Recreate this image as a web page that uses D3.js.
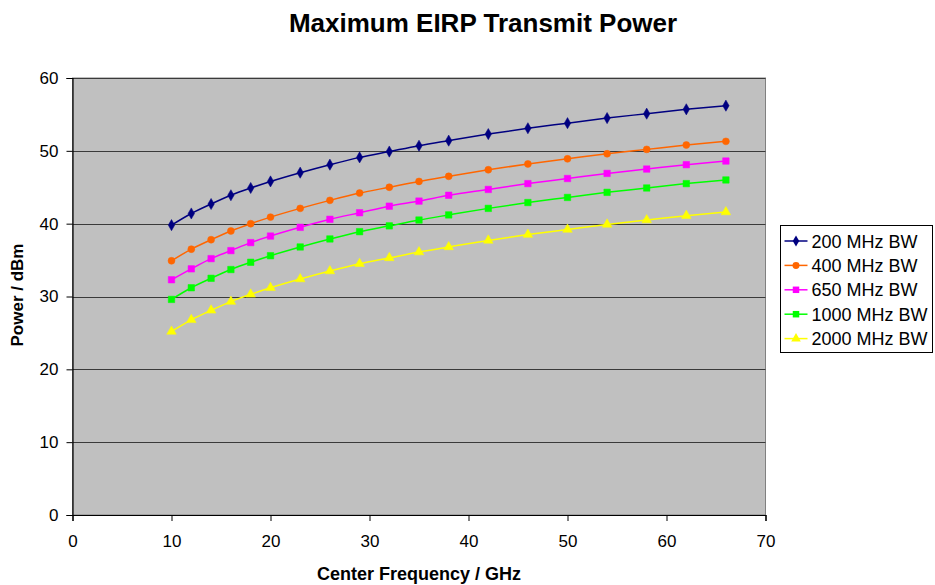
<!DOCTYPE html>
<html>
<head>
<meta charset="utf-8">
<script src="https://cdn.jsdelivr.net/npm/d3@7"></script>
<style>
  html, body { margin: 0; padding: 0; background: #fff; }
  svg { display: block; font-family: "Liberation Sans", Arial, sans-serif; }
</style>
</head>
<body>
<svg id="chart" width="935" height="585"></svg>
<script>
// Center frequencies (GHz)
const freqs = [10, 12, 14, 16, 18, 20, 23, 26, 29, 32, 35, 38, 42, 46, 50, 54, 58, 62, 66];

// Maximum EIRP (dBm) per bandwidth
const bw200  = [39.8, 41.4, 42.7, 43.9, 44.9, 45.8, 47.0, 48.1, 49.1, 49.9, 50.7, 51.4, 52.3, 53.1, 53.8, 54.5, 55.1, 55.7, 56.2];
const bw400  = [34.9, 36.5, 37.8, 39.0, 40.0, 40.9, 42.1, 43.2, 44.2, 45.0, 45.8, 46.5, 47.4, 48.2, 48.9, 49.6, 50.2, 50.8, 51.3];
const bw650  = [32.3, 33.8, 35.2, 36.3, 37.4, 38.3, 39.5, 40.6, 41.5, 42.4, 43.1, 43.9, 44.7, 45.5, 46.2, 46.9, 47.5, 48.1, 48.6];
const bw1000 = [29.6, 31.2, 32.5, 33.7, 34.7, 35.6, 36.8, 37.9, 38.9, 39.7, 40.5, 41.2, 42.1, 42.9, 43.6, 44.3, 44.9, 45.5, 46.0];
const bw2000 = [25.2, 26.8, 28.1, 29.3, 30.3, 31.2, 32.4, 33.5, 34.5, 35.3, 36.1, 36.8, 37.7, 38.5, 39.2, 39.9, 40.5, 41.1, 41.6];

const seriesNames = ["200 MHz BW", "400 MHz BW", "650 MHz BW", "1000 MHz BW", "2000 MHz BW"];
const seriesValues = [bw200, bw400, bw650, bw1000, bw2000];

const xTicks = [0, 10, 20, 30, 40, 50, 60, 70];
const yTicks = [0, 10, 20, 30, 40, 50, 60];

const titleText = "Maximum EIRP Transmit Power";
const xTitle = "Center Frequency / GHz";
const yTitle = "Power / dBm";

// Styling per series: colour and marker symbol
const styles = [
  { color: "#000080", symbol: d3.symbolDiamond, size: 36 },
  { color: "#FF6600", symbol: d3.symbolCircle,  size: 38 },
  { color: "#FF00FF", symbol: d3.symbolSquare,  size: 42 },
  { color: "#00FF00", symbol: d3.symbolSquare,  size: 42 },
  { color: "#FFFF00", symbol: d3.symbolTriangle, size: 40 }
];

const svg = d3.select("#chart");
const plot = { left: 72.5, right: 765.5, top: 78, bottom: 515 };

const x = d3.scaleLinear().domain([0, 70]).range([plot.left, plot.right]);
const y = d3.scaleLinear().domain([0, 60]).range([plot.bottom, plot.top]);

// Plot area background
svg.append("rect")
  .attr("x", plot.left).attr("y", plot.top)
  .attr("width", plot.right - plot.left).attr("height", plot.bottom - plot.top)
  .attr("fill", "#C0C0C0")
  .attr("stroke", "#808080").attr("stroke-width", 1);

// Horizontal gridlines
svg.append("g")
  .selectAll("line")
  .data(yTicks.filter(t => t > 0))
  .join("line")
  .attr("x1", plot.left).attr("x2", plot.right)
  .attr("y1", d => Math.round(y(d)) + 0.5).attr("y2", d => Math.round(y(d)) + 0.5)
  .attr("stroke", "#3a3a3a").attr("stroke-width", 1.2);

// Axes
const yAxis = d3.axisLeft(y).tickValues(yTicks).tickSize(6).tickPadding(8).tickFormat(d3.format("d"));
const xAxis = d3.axisBottom(x).tickValues(xTicks).tickSize(6).tickPadding(14).tickFormat(d3.format("d"));

const gy = svg.append("g").attr("transform", `translate(${plot.left},0)`).call(yAxis);
const gx = svg.append("g").attr("transform", `translate(0,${plot.bottom})`).call(xAxis);

[gx, gy].forEach(g => {
  g.select(".domain").attr("stroke", "#000").attr("stroke-width", 1.2);
  g.selectAll(".tick line").attr("stroke", "#000");
  g.selectAll(".tick text")
    .attr("fill", "#000")
    .style("font-size", "17px")
    .style("font-family", '"Liberation Sans", Arial, sans-serif');
});

// Lines and markers
const line = d3.line()
  .x((d, i) => x(freqs[i]))
  .y(d => y(d))
  .curve(d3.curveMonotoneX);

const seriesG = svg.append("g");
seriesValues.forEach((vals, si) => {
  const st = styles[si];
  seriesG.append("path")
    .datum(vals)
    .attr("d", line)
    .attr("fill", "none")
    .attr("stroke", st.color)
    .attr("stroke-width", 1.5);
  seriesG.append("g")
    .selectAll("path")
    .data(vals)
    .join("path")
    .attr("transform", (d, i) => `translate(${x(freqs[i])},${y(d)})`)
    .attr("d", d3.symbol().type(st.symbol).size(st.size))
    .attr("fill", st.color)
    .attr("stroke", st.color)
    .attr("stroke-width", 0.5);
});

// Title
svg.append("text")
  .attr("x", 483).attr("y", 32)
  .attr("text-anchor", "middle")
  .style("font-size", "26px").style("font-weight", "bold")
  .text(titleText);

// Axis titles
svg.append("text")
  .attr("x", 419).attr("y", 580)
  .attr("text-anchor", "middle")
  .style("font-size", "18px").style("font-weight", "bold")
  .text(xTitle);

svg.append("text")
  .attr("transform", `translate(23,295) rotate(-90)`)
  .attr("text-anchor", "middle")
  .style("font-size", "17px").style("font-weight", "bold")
  .text(yTitle);

// Legend
const legend = { x: 780.5, y: 225.5, w: 152, h: 127, rowH: 24.4, firstRow: 15.5 };
svg.append("rect")
  .attr("x", legend.x).attr("y", legend.y)
  .attr("width", legend.w).attr("height", legend.h)
  .attr("fill", "#fff").attr("stroke", "#000").attr("stroke-width", 1);

const items = svg.append("g")
  .selectAll("g")
  .data(seriesNames)
  .join("g")
  .attr("transform", (d, i) => `translate(${legend.x},${legend.y + legend.firstRow + i * legend.rowH})`);

items.append("line")
  .attr("x1", 4).attr("x2", 27).attr("y1", 0).attr("y2", 0)
  .attr("stroke", (d, i) => styles[i].color).attr("stroke-width", 1.5);
items.append("path")
  .attr("transform", "translate(15.5,0)")
  .attr("d", (d, i) => d3.symbol().type(styles[i].symbol).size(styles[i].size)())
  .attr("fill", (d, i) => styles[i].color);
items.append("text")
  .attr("x", 31).attr("y", 6.5)
  .style("font-size", "18px")
  .text(d => d);
</script>
</body>
</html>
